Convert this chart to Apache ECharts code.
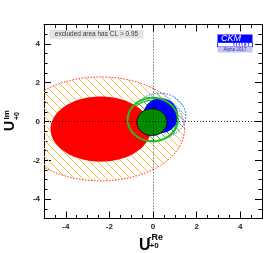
<!DOCTYPE html>
<html><head><meta charset="utf-8">
<script src="https://cdn.jsdelivr.net/npm/echarts@6/dist/echarts.min.js"></script>
<style>html,body{margin:0;padding:0;background:#fff}#c{width:276px;height:253px}</style>
</head><body><div id="c"></div>
<script>
// ---- data ----
const shapeNames = ['excluded95Outer', 'cyanRegion', 'greenHatch', 'redCore', 'blueCore', 'greenRing', 'greenCore'];
const centerRe = [-2.4, 0.3, 0.0, -2.4, 0.35, -0.01, -0.05];
const centerIm = [-0.38, 0.3, 0.05, -0.39, 0.3, 0.1, -0.03];
const radiusRe = [3.85, 1.2, 1.08, 2.3, 0.8, 1.15, 0.69];
const radiusIm = [2.68, 1.16, 1.05, 1.68, 0.9, 1.12, 0.69];
const majorTicks = [-4, -2, 0, 2, 4];
const axisMin = -5, axisMax = 5;

function hatch(color, s, lw, bg) {
  const c = document.createElement('canvas');
  c.width = s; c.height = s;
  const ctx = c.getContext('2d');
  if (bg) { ctx.fillStyle = bg; ctx.fillRect(0, 0, s, s); }
  ctx.strokeStyle = color; ctx.lineWidth = lw;
  ctx.beginPath();
  ctx.moveTo(-1, -1); ctx.lineTo(s + 1, s + 1);
  ctx.moveTo(s - 1, -1); ctx.lineTo(s + 1, 1);
  ctx.moveTo(-1, s - 1); ctx.lineTo(1, s + 1);
  ctx.stroke();
  return { image: c, repeat: 'repeat' };
}

const styles = {
  excluded95Outer: { fill: hatch('#f6c43c', 8, 1, null), stroke: '#ff3030', lineWidth: 1, lineDash: [1.5, 1.5] },
  cyanRegion: { fill: hatch('#50e4f2', 7, 1, null), stroke: '#3050ff', lineWidth: 1, lineDash: [1.5, 1.5] },
  greenHatch: { fill: hatch('#30b030', 7, 1, '#ffffff'), stroke: '#20c020', lineWidth: 1.2 },
  redCore: { fill: '#ff0000', stroke: null, lineWidth: 0 },
  blueCore: { fill: '#0000ff', stroke: null, lineWidth: 0 },
  greenRing: { fill: null, stroke: '#20c020', lineWidth: 2 },
  greenCore: { fill: '#008c00', stroke: '#000', lineWidth: 1 }
};

function renderEllipse(params, api) {
  const i = api.value(0);
  const pts = [];
  const N = 120;
  for (let k = 0; k < N; k++) {
    const t = 2 * Math.PI * k / N;
    pts.push(api.coord([centerRe[i] + radiusRe[i] * Math.cos(t), centerIm[i] + radiusIm[i] * Math.sin(t)]));
  }
  const st = styles[shapeNames[i]];
  return {
    type: 'polygon',
    shape: { points: pts },
    style: { fill: st.fill || 'none', stroke: st.stroke || 'none', lineWidth: st.lineWidth, lineDash: st.lineDash || null }
  };
}

const tickFont = { fontFamily: 'Liberation Sans', fontWeight: 'bold', fontSize: 8, color: '#222' };
function majorAxis(pos, labels) {
  return {
    type: 'value', position: pos, min: axisMin, max: axisMax, interval: 1,
    axisLine: { show: true, onZero: false, lineStyle: { color: '#000', width: 1 } },
    axisTick: { show: true, inside: true, length: 7, customValues: majorTicks, lineStyle: { color: '#000' } },
    axisLabel: labels ? Object.assign({ show: true, margin: 4, customValues: majorTicks,
      formatter: v => (majorTicks.indexOf(v) >= 0 ? String(v) : '') }, tickFont) : { show: false },
    splitLine: { show: false }
  };
}
function minorAxis(pos) {
  return {
    type: 'value', position: pos, min: axisMin, max: axisMax, interval: 0.5,
    axisLine: { show: false, onZero: false },
    axisTick: { show: true, inside: true, length: 3.5, lineStyle: { color: '#000' } },
    axisLabel: { show: false }, splitLine: { show: false }
  };
}

const chart = echarts.init(document.getElementById('c'), null, { renderer: 'canvas' });
chart.setOption({
  animation: false,
  backgroundColor: '#fff',
  grid: { left: 44, right: 14, top: 24.5, bottom: 34.5, containLabel: false },
  xAxis: [majorAxis('bottom', true), minorAxis('bottom'), majorAxis('top', false), minorAxis('top')],
  yAxis: [majorAxis('left', true), minorAxis('left'), majorAxis('right', false), minorAxis('right')],
  series: [
    {
      type: 'custom', xAxisIndex: 0, yAxisIndex: 0, clip: true,
      renderItem: renderEllipse,
      data: shapeNames.map((n, i) => [i]),
      silent: true
    },
    {
      type: 'line', xAxisIndex: 0, yAxisIndex: 0, data: [], z: 5,
      markLine: {
        silent: true, symbol: 'none', label: { show: false },
        lineStyle: { color: '#000', type: [1, 2], width: 0.8 },
        data: [{ xAxis: 0 }, { yAxis: 0 }]
      }
    }
  ],
  graphic: [
    { type: 'rect', shape: { x: 50, y: 30.5, width: 93, height: 7.5 }, style: { fill: '#e6e6e6', stroke: '#c8c8c8', lineWidth: 0.5 }, z: 10 },
    { type: 'text', x: 96.5, y: 34.5, style: { text: 'excluded area has CL > 0.95', fontFamily: 'Liberation Sans', fontSize: 6.5, fill: '#333', align: 'center', verticalAlign: 'middle' }, z: 11 },
    // CKMfitter logo
    { type: 'rect', shape: { x: 217.5, y: 34.5, width: 35, height: 8 }, style: { fill: '#0000ff' }, z: 10 },
    { type: 'rect', shape: { x: 217.5, y: 42.5, width: 35, height: 4.5 }, style: { fill: '#fff', stroke: '#0000ff', lineWidth: 0.8 }, z: 10 },
    { type: 'rect', shape: { x: 217.5, y: 47, width: 35, height: 5.5 }, style: { fill: '#c4c4f4' }, z: 10 },
    { type: 'text', x: 231, y: 38.8, style: { text: 'CKM', fontFamily: 'Liberation Sans', fontStyle: 'italic', fontSize: 9, fill: '#fff', align: 'center', verticalAlign: 'middle' }, z: 11 },
    { type: 'text', x: 241.5, y: 45, style: { text: 'f i t t e r', fontFamily: 'Liberation Sans', fontWeight: 'bold', fontSize: 4.5, fill: '#0000ff', align: 'center', verticalAlign: 'middle' }, z: 11 },
    { type: 'text', x: 235, y: 49.9, style: { text: 'Alpha 2017', fontFamily: 'Liberation Sans', fontSize: 4.5, fill: '#3030a0', align: 'center', verticalAlign: 'middle' }, z: 11 },
    // x-axis title U^{-Re}_{+0}
    { type: 'text', x: 139, y: 253.5, style: { text: 'U', fontFamily: 'Liberation Sans', fontWeight: 'bold', fontSize: 16, fill: '#000', align: 'left', verticalAlign: 'bottom' }, z: 11 },
    { type: 'text', x: 148.5, y: 242, style: { text: '-Re', fontFamily: 'Liberation Sans', fontWeight: 'bold', fontSize: 9, fill: '#000', align: 'left', verticalAlign: 'bottom' }, z: 11 },
    { type: 'text', x: 149.5, y: 250, style: { text: '+0', fontFamily: 'Liberation Sans', fontWeight: 'bold', fontSize: 8, fill: '#000', align: 'left', verticalAlign: 'bottom' }, z: 11 },
    // y-axis title U^{Im}_{+0}, rotated
    {
      type: 'group', x: 9, y: 131, rotation: Math.PI / 2, z: 11,
      children: [
        { type: 'text', x: 0, y: 8, style: { text: 'U', fontFamily: 'Liberation Sans', fontWeight: 'bold', fontSize: 14, fill: '#000', align: 'left', verticalAlign: 'bottom' } },
        { type: 'text', x: 11.5, y: 1.5, style: { text: 'Im', fontFamily: 'Liberation Sans', fontWeight: 'bold', fontSize: 8, fill: '#000', align: 'left', verticalAlign: 'bottom' } },
        { type: 'text', x: 11, y: 12, style: { text: '+0', fontFamily: 'Liberation Sans', fontWeight: 'bold', fontSize: 7, fill: '#000', align: 'left', verticalAlign: 'bottom' } }
      ]
    }
  ]
});
</script></body></html>
